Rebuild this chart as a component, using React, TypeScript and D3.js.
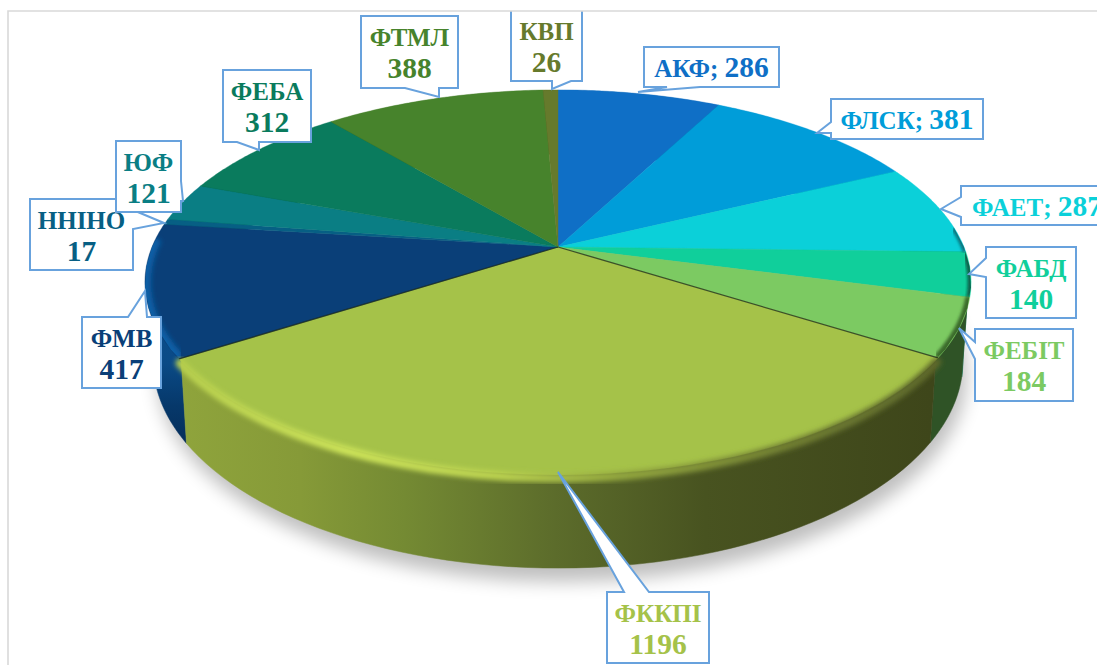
import React from "react";
import * as d3 from "d3";

// ---- data ----
const names = ["АКФ", "ФЛСК", "ФАЕТ", "ФАБД", "ФЕБІТ", "ФККПІ", "ФМВ", "ННІНО", "ЮФ", "ФЕБА", "ФТМЛ", "КВП"];
const values = [286, 381, 287, 140, 184, 1196, 417, 17, 121, 312, 388, 26];
const topColors = ["#0f6fc6", "#009dd9", "#0bd0d9", "#10cf9b", "#7cca62", "#a5c249", "#0a3f78", "#075f84", "#0a7e84", "#0a7b5d", "#47832c", "#667a2c"];
const textColors = ["#0f6fc6", "#009dd9", "#0bd0d9", "#10cf9b", "#7cca62", "#a5c249", "#0a3f78", "#075f84", "#0a7e84", "#0a7b5d", "#47832c", "#667a2c"];
const wallColors = ["#094272", "#005e82", "#067c82", "#0a7c5d", "#2f5326", "#5d6c2a", "#06386a", "#043850", "#064b4f", "#064a38", "#2c4e1d", "#3d491a"];
const oneLine = [true, true, true, false, false, false, false, false, false, false, false, false];

// ---- callout layout (page pixels) ----
type Side = "top" | "right" | "bottom" | "left";
const callouts: { box: number[]; side: Side; base: number[]; tip: number[] }[] = [
  { box: [644, 47, 779, 87], side: "bottom", base: [667, 700], tip: [638, 92] },
  { box: [831, 99, 983, 139], side: "left", base: [122, 133], tip: [817, 133] },
  { box: [961, 186, 1113, 225], side: "left", base: [197, 217], tip: [941, 209] },
  { box: [986, 247, 1076, 318], side: "left", base: [258, 277], tip: [969, 274] },
  { box: [975, 329, 1073, 401], side: "left", base: [342, 359], tip: [959, 328] },
  { box: [607, 592, 709, 663], side: "top", base: [624, 649], tip: [558, 472] },
  { box: [82, 317, 161, 388], side: "top", base: [128, 147], tip: [145, 291] },
  { box: [30, 199, 133, 270], side: "right", base: [210, 229], tip: [164, 223] },
  { box: [116, 141, 181, 212], side: "right", base: [181, 201], tip: [183, 201] },
  { box: [223, 70, 311, 142], side: "bottom", base: [237, 259], tip: [259, 150] },
  { box: [361, 16, 458, 88], side: "bottom", base: [405, 439], tip: [439, 97] },
  { box: [511, 0, 582, 81], side: "bottom", base: [552, 571], tip: [552, 89] },
];

// ---- projection of the tilted disk ----
const K = 0.184;
const CX = 558;
const topDisk = { a: 406, b: 186, cy: 247 };
const botDisk = { a: 398, b: 200, cy: 323 };
type Disk = typeof topDisk;
const project = (ang: number, disk: Disk, r = 1, dy = 0): [number, number] => {
  const u = Math.sin(ang) * r;
  const v = -Math.cos(ang) * r;
  const w = 1 - K * v;
  return [CX + (disk.a * u) / w, disk.cy + (disk.b * v) / w + dy];
};

const arcs = d3.pie<number>().sort(null).startAngle(0).endAngle(2 * Math.PI)(values);
const line = d3.line();
const samples = (a0: number, a1: number) => d3.range(0, 61).map((i) => a0 + ((a1 - a0) * i) / 60);

const topPath = (a0: number, a1: number) =>
  line([[CX, topDisk.cy], ...samples(a0, a1).map((a) => project(a, topDisk))]) + "Z";
const wallPath = (a0: number, a1: number) =>
  line([...samples(a0, a1).map((a) => project(a, topDisk, 0.995)), ...samples(a0, a1).reverse().map((a) => project(a, botDisk))]) + "Z";
const rimPath = (a0: number, a1: number, r: number, dy = 0) => line(samples(a0, a1).map((a) => project(a, topDisk, r, dy))) ?? "";
const wholeDisk = (disk: Disk) => line(samples(0, 2 * Math.PI).map((a) => project(a, disk))) + "Z";

const calloutPath = (c: (typeof callouts)[number]) => {
  const [x0, y0, x1, y1] = c.box;
  const [p, q] = c.base;
  const t = c.tip;
  const pts: [number, number][] = [[x0, y0]];
  if (c.side === "top") pts.push([p, y0], [t[0], t[1]], [q, y0]);
  pts.push([x1, y0]);
  if (c.side === "right") pts.push([x1, p], [t[0], t[1]], [x1, q]);
  pts.push([x1, y1]);
  if (c.side === "bottom") pts.push([q, y1], [t[0], t[1]], [p, y1]);
  pts.push([x0, y1]);
  if (c.side === "left") pts.push([x0, q], [t[0], t[1]], [x0, p]);
  return line(pts) + "Z";
};

const FONT = "'Liberation Serif', serif";
const LETTER = 25;
const DIGIT = 29.5;

export default function App() {
  const order = arcs
    .map((d, i) => ({ d, i }))
    .sort((p, q) => -Math.cos((q.d.startAngle + q.d.endAngle) / 2) - -Math.cos((p.d.startAngle + p.d.endAngle) / 2))
    .reverse();
  const kk = arcs[5];
  return (
    <svg width={1097} height={665} style={{ position: "absolute", left: 0, top: 0, display: "block", background: "#fff" }}>
      <defs>
        <filter id="shadow" x="-20%" y="-20%" width="140%" height="140%"><feGaussianBlur stdDeviation="9" /></filter>
        <filter id="soft" x="-5%" y="-5%" width="110%" height="110%"><feGaussianBlur stdDeviation="1.6" /></filter>
        <filter id="softer" x="-5%" y="-5%" width="110%" height="110%"><feGaussianBlur stdDeviation="2.6" /></filter>
        <linearGradient id="kkWall" gradientUnits="userSpaceOnUse" x1="180" x2="930" y1="0" y2="0">
          <stop offset="0" stopColor="#8fa43c" />
          <stop offset="0.16" stopColor="#869a38" />
          <stop offset="0.3" stopColor="#748a33" />
          <stop offset="0.5" stopColor="#5c6c2b" />
          <stop offset="0.7" stopColor="#485320" />
          <stop offset="1" stopColor="#3e461a" />
        </linearGradient>
        <linearGradient id="kkRim" gradientUnits="userSpaceOnUse" x1="180" x2="940" y1="0" y2="0">
          <stop offset="0" stopColor="#b7cf4e" />
          <stop offset="0.22" stopColor="#cde45a" />
          <stop offset="0.42" stopColor="#bcd350" />
          <stop offset="0.58" stopColor="#93a73f" />
          <stop offset="0.8" stopColor="#717f33" />
          <stop offset="1" stopColor="#5d682b" />
        </linearGradient>
        <linearGradient id="fmvWall" gradientUnits="userSpaceOnUse" x1="0" x2="0" y1="270" y2="440">
          <stop offset="0" stopColor="#0b4f92" />
          <stop offset="0.55" stopColor="#0a4a86" />
          <stop offset="0.8" stopColor="#06386a" />
          <stop offset="1" stopColor="#052f5c" />
        </linearGradient>
        <clipPath id="topClip"><path d={wholeDisk(topDisk)} /></clipPath>
        <clipPath id="labelClip"><rect x={0} y={11} width={1097} height={654} /></clipPath>
      </defs>

      <path d={wholeDisk(botDisk)} transform="translate(4,14)" fill="#000" opacity={0.25} filter="url(#shadow)" />

      {order.map(({ d, i }) => (
        <path key={i} d={wallPath(d.startAngle, d.endAngle)}
          fill={i === 5 ? "url(#kkWall)" : i === 6 ? "url(#fmvWall)" : wallColors[i]}
          stroke={i === 5 ? "url(#kkWall)" : i === 6 ? "url(#fmvWall)" : wallColors[i]} strokeWidth={0.5} />
      ))}

      {arcs.map((d, i) => (
        <path key={i} d={topPath(d.startAngle, d.endAngle)} fill={topColors[i]} stroke={topColors[i]} strokeWidth={0.4} />
      ))}

      {/* rims */}
      <g clipPath="url(#topClip)">
        <path d={rimPath(arcs[2].startAngle + 0.35, arcs[2].endAngle, 1.0)} fill="none" stroke="#076f78" strokeWidth={6} filter="url(#soft)" />
        <path d={rimPath(arcs[3].startAngle, arcs[3].endAngle, 1.0)} fill="none" stroke="#0a5e4a" strokeWidth={7} filter="url(#soft)" />
        <path d={rimPath(arcs[4].startAngle, arcs[4].endAngle, 1.0)} fill="none" stroke="#3a6a2c" strokeWidth={9} filter="url(#soft)" />
        <path d={rimPath(arcs[6].startAngle, arcs[6].startAngle + 0.62, 1.0)} fill="none" stroke="#0e5ea6" strokeWidth={12} filter="url(#softer)" />
      </g>
      <path d={rimPath(kk.startAngle + 0.006, kk.endAngle - 0.006, 1, 3)} fill="none" stroke="url(#kkRim)" strokeWidth={9} filter="url(#softer)" strokeLinecap="round" />

      {/* shadow lines beside the large slice */}
      {[kk.startAngle, kk.endAngle].map((a, i) => {
        const p = project(a, topDisk);
        return <path key={i} d={line([[CX, topDisk.cy], p]) ?? ""} stroke="#1b2a1a" strokeWidth={1.3} opacity={0.75} fill="none" />;
      })}

      <g clipPath="url(#labelClip)">
        {callouts.map((c, i) => {
          const cx = (c.box[0] + c.box[2]) / 2;
          const cy = (c.box[1] + c.box[3]) / 2 + (i === 11 ? 5 : 0);
          return (
            <g key={i}>
              <path d={calloutPath(c)} fill="#fff" stroke="#68a2dd" strokeWidth={2} strokeLinejoin="miter" />
              <g fontFamily={FONT} fontWeight={700} fontSize={LETTER} fill={textColors[i]} textAnchor="middle">
                {oneLine[i] ? (
                  <text x={cx} y={cy + 10}>{names[i]}; <tspan fontSize={DIGIT}>{values[i]}</tspan></text>
                ) : (
                  <>
                    <text x={cx} y={cy - 6}>{names[i]}</text>
                    <text x={cx} y={cy + 26} fontSize={DIGIT}>{values[i]}</text>
                  </>
                )}
              </g>
            </g>
          );
        })}
      </g>

      <path d={line([[8, 665], [8, 11], [1097, 11]]) ?? ""} fill="none" stroke="#d9d9d9" strokeWidth={1.6} />
    </svg>
  );
}
